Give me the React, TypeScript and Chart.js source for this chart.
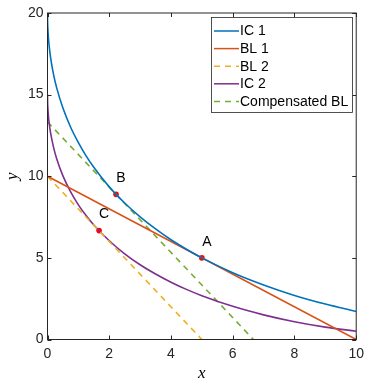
import React, { useEffect, useRef } from "react";
import { Chart, registerables } from "chart.js";
Chart.register(...registerables);

const curveX = [0, 0.002, 0.01, 0.03, 0.05, 0.1, 0.2, 0.3, 0.5, 0.75, 1, 1.25, 1.5, 2, 2.5, 3, 3.5, 4, 4.5, 5, 6, 7, 8, 9, 10];
const ic1Y = [20, 19.6, 19.12, 18.48, 18.05, 17.27, 16.2, 15.4, 14.18, 13.0, 12.06, 11.25, 10.55, 9.35, 8.36, 7.51, 6.77, 6.11, 5.53, 5.0, 4.09, 3.34, 2.7, 2.17, 1.72];
const ic2Y = [15, 14.66, 14.24, 13.69, 13.32, 12.65, 11.74, 11.06, 10.02, 9.04, 8.25, 7.59, 7.01, 6.05, 5.25, 4.58, 4.01, 3.51, 3.07, 2.68, 2.03, 1.51, 1.09, 0.76, 0.51];

const bl1X = [0, 10];
const bl1Y = [10, 0];
const bl2X = [0, 5];
const bl2Y = [10, 0];
const compX = [0, 6.67];
const compY = [13.33, 0];

const pointLabels = ["A", "B", "C"];
const pointX = [5, 2.22, 1.67];
const pointY = [5, 8.89, 6.67];

const seriesNames = ["IC 1", "BL 1", "BL 2", "IC 2", "Compensated BL"];

const xTicks = [0, 2, 4, 6, 8, 10];
const yTicks = [0, 5, 10, 15, 20];

const zip = (xs: number[], ys: number[]) => xs.map((x, i) => ({ x, y: ys[i] }));

const FONT = "Liberation Sans, Arial, sans-serif";
const INK = "#262626";

export default function App() {
  const ref = useRef<HTMLCanvasElement>(null);
  useEffect(() => {
    const canvas = ref.current!;
    const overlay = {
      id: "overlay",
      afterDatasetsDraw(chart: any) {
        const ctx = chart.ctx as CanvasRenderingContext2D;
        const { left, right, top, bottom } = chart.chartArea;
        const xs = chart.scales.x;
        const ys = chart.scales.y;
        ctx.save();
        // frame
        ctx.strokeStyle = INK;
        ctx.lineWidth = 1;
        ctx.strokeRect(left, top, right - left, bottom - top);
        // inward ticks
        const tl = 4;
        ctx.beginPath();
        xTicks.forEach((v) => {
          const px = Math.round(xs.getPixelForValue(v)) + 0.5;
          ctx.moveTo(px, bottom);
          ctx.lineTo(px, bottom - tl);
          ctx.moveTo(px, top);
          ctx.lineTo(px, top + tl);
        });
        yTicks.forEach((v) => {
          const py = Math.round(ys.getPixelForValue(v)) + 0.5;
          ctx.moveTo(left, py);
          ctx.lineTo(left + tl, py);
          ctx.moveTo(right, py);
          ctx.lineTo(right - tl, py);
        });
        ctx.stroke();
        // point labels
        ctx.fillStyle = "#000";
        ctx.font = `14px ${FONT}`;
        ctx.textAlign = "center";
        ctx.textBaseline = "middle";
        pointLabels.forEach((t, i) => {
          const px = xs.getPixelForValue(pointX[i]);
          const py = ys.getPixelForValue(pointY[i]);
          ctx.fillText(t, px + 5, py - 16);
        });
        // axis titles
        ctx.font = `italic 17px "Liberation Serif", "Times New Roman", serif`;
        ctx.fillStyle = "#000";
        ctx.fillText("x", (left + right) / 2, 374);
        ctx.save();
        ctx.translate(13, (top + bottom) / 2);
        ctx.rotate(-Math.PI / 2);
        ctx.fillText("y", 0, 0);
        ctx.restore();
        // legend
        const lx = 211.5, ly = 17.5, lw = 141, lh = 95;
        ctx.fillStyle = "#fff";
        ctx.fillRect(lx, ly, lw, lh);
        ctx.strokeStyle = INK;
        ctx.lineWidth = 0.8;
        ctx.strokeRect(lx, ly, lw, lh);
        ctx.font = `14px ${FONT}`;
        ctx.textAlign = "left";
        chart.data.datasets.slice(0, 5).forEach((ds: any, i: number) => {
          const cy = 31 + i * 17.6;
          ctx.strokeStyle = ds.borderColor;
          ctx.lineWidth = 1.5;
          ctx.setLineDash(ds.borderDash || []);
          ctx.beginPath();
          ctx.moveTo(214, cy);
          ctx.lineTo(239, cy);
          ctx.stroke();
          ctx.setLineDash([]);
          ctx.fillStyle = "#000";
          ctx.fillText(ds.label, 240, cy + 0.5);
        });
        ctx.restore();
      },
    };
    const line = (label: string, data: any[], color: string, dash?: number[]) => ({
      label,
      data,
      borderColor: color,
      backgroundColor: color,
      borderWidth: 1.6,
      borderDash: dash,
      showLine: true,
      pointRadius: 0,
      fill: false,
      cubicInterpolationMode: "monotone" as const,
    });
    const chart = new Chart(canvas, {
      type: "scatter",
      data: {
        datasets: [
          line(seriesNames[0], zip(curveX, ic1Y), "#0072BD"),
          line(seriesNames[1], zip(bl1X, bl1Y), "#D95319"),
          line(seriesNames[2], zip(bl2X, bl2Y), "#EDB120", [6, 5]),
          line(seriesNames[3], zip(curveX, ic2Y), "#7E2F8E"),
          line(seriesNames[4], zip(compX, compY), "#77AC30", [6, 5]),
          {
            label: "points",
            data: zip(pointX, pointY),
            showLine: false,
            pointRadius: 2.8,
            pointBackgroundColor: "#FF0000",
            pointBorderColor: "#FF0000",
            pointBorderWidth: 0,
          } as any,
        ],
      },
      options: {
        animation: false,
        responsive: false,
        devicePixelRatio: 1,
        layout: { padding: { top: 13, right: 11, left: 0, bottom: 0 } },
        plugins: { legend: { display: false }, tooltip: { enabled: false } },
        scales: {
          x: {
            type: "linear",
            min: 0,
            max: 10,
            afterBuildTicks: (s: any) => {
              s.ticks = xTicks.map((v) => ({ value: v }));
            },
            afterFit: (s: any) => {
              s.height = 40.5;
            },
            grid: { display: false, drawTicks: false },
            border: { display: false },
            ticks: { padding: 6, color: INK, font: { family: FONT, size: 14 } },
          },
          y: {
            type: "linear",
            min: 0,
            max: 20,
            afterBuildTicks: (s: any) => {
              s.ticks = yTicks.map((v) => ({ value: v }));
            },
            afterFit: (s: any) => {
              s.width = 47.5;
            },
            grid: { display: false, drawTicks: false },
            border: { display: false },
            ticks: { padding: 4, color: INK, font: { family: FONT, size: 14 } },
          },
        },
      },
      plugins: [overlay],
    });
    return () => chart.destroy();
  }, []);
  return (
    <div style={{ position: "fixed", left: 0, top: 0, width: 370, height: 380, background: "#fff" }}>
      <canvas ref={ref} width={370} height={380} />
    </div>
  );
}
